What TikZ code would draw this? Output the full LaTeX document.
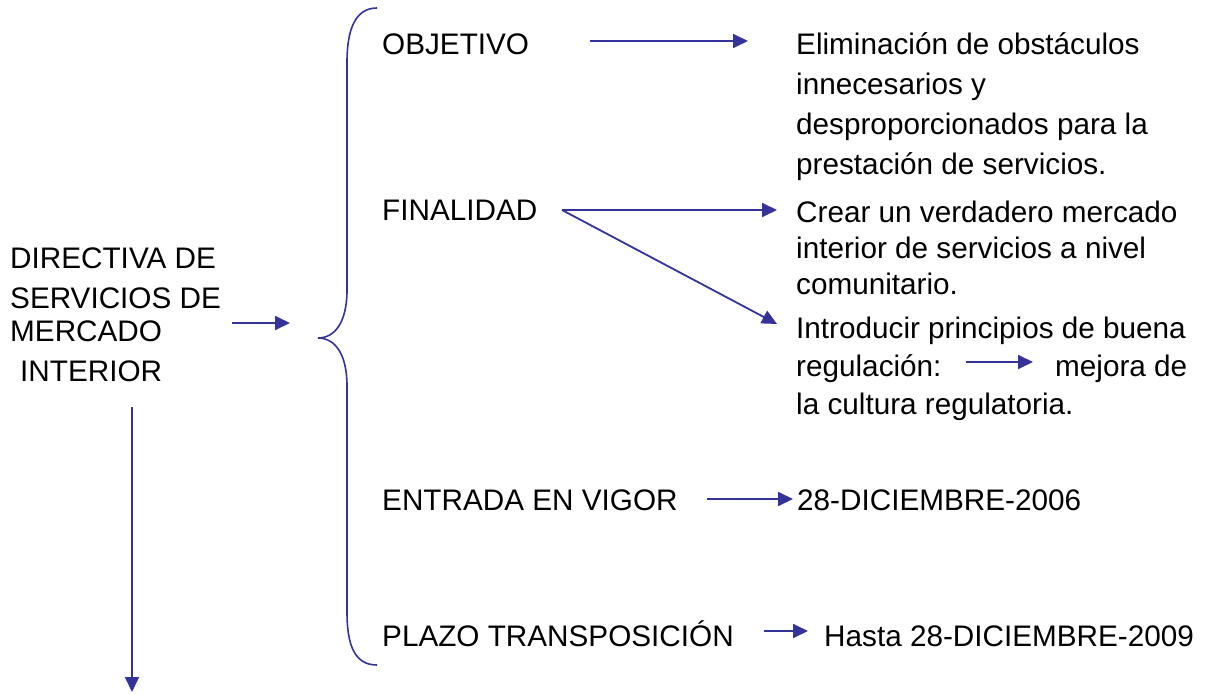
\documentclass[tikz,border=0pt]{standalone}
\usepackage{fontspec}
\setmainfont{Liberation Sans}
\usetikzlibrary{arrows.meta}
\definecolor{azul}{HTML}{333399}
\tikzset{
	txt/.style={anchor=base west, inner sep=0pt, font=\fontsize{29.7}{36}\selectfont},
	arr/.style={azul, line width=1.8pt, -{Triangle[length=15pt,width=14pt]}}
}
\begin{document}
\begin{tikzpicture}[x=1pt,y=-1pt]
	\useasboundingbox (0,0) rectangle (1206,695);
	% Title
	\node[txt] (dir1) at (10,268) {DIRECTIVA DE};
	\node[txt] (dir2) at (10,308) {SERVICIOS DE};
	\node[txt] (dir3) at (10,341) {MERCADO};
	\node[txt] (dir4) at (20,381) {INTERIOR};
	% Brace
	\draw [azul, line width=1.6pt] (377,8) .. controls (355,8) and (347,30) .. (347,62) -- (347,290)
		.. controls (347,322) and (335,338) .. (318,338)
		.. controls (335,338) and (347,354) .. (347,386) -- (347,612)
		.. controls (347,646) and (355,665) .. (377,665);
	% Items
	\node[txt] (obj) at (382,55) {OBJETIVO};
	\node[txt] (fin) at (382,220) {FINALIDAD};
	\node[txt] (ent) at (382,510) {ENTRADA EN VIGOR};
	\node[txt] (pla) at (382,646) {PLAZO TRANSPOSICIÓN};
	% Texts
	\node[txt] (eli1) at (796,55) {Eliminación de obstáculos};
	\node[txt] (eli2) at (796,95) {innecesarios y};
	\node[txt] (eli3) at (796,135) {desproporcionados para la};
	\node[txt] (eli4) at (796,175) {prestación de servicios.};
	\node[txt] (cre1) at (796,222) {Crear un verdadero mercado};
	\node[txt] (cre2) at (796,258) {interior de servicios a nivel};
	\node[txt] (cre3) at (796,294) {comunitario.};
	\node[txt] (int1) at (796,338) {Introducir principios de buena};
	\node[txt] (int2) at (796,376) {regulación:};
	\node[txt] (mej) at (1055,376) {mejora de};
	\node[txt] (int3) at (796,414) {la cultura regulatoria.};
	\node[txt] (fec1) at (797,510) {28-DICIEMBRE-2006};
	\node[txt] (fec2) at (824,646) {Hasta 28-DICIEMBRE-2009};
	% Arrow ends
	\coordinate (dirout) at (232,323);
	\coordinate (bracein) at (290,323);
	\coordinate (dirdown) at (132,407);
	\coordinate (dirend) at (132,692);
	\coordinate (objout) at (590,41);
	\coordinate (objin) at (748,41);
	\coordinate (finout) at (562,210);
	\coordinate (crein) at (777,210);
	\coordinate (intin) at (777,324);
	\coordinate (regout) at (966,362);
	\coordinate (mejin) at (1033,362);
	\coordinate (entout) at (707,499);
	\coordinate (fecin1) at (793,499);
	\coordinate (plaout) at (764,631);
	\coordinate (fecin2) at (808,631);
	% Arrows
	\draw [arr] (dirout) -- (bracein);
	\draw [arr] (dirdown) -- (dirend);
	\draw [arr] (objout) -- (objin);
	\draw [arr] (finout) -- (crein);
	\draw [arr] (finout) -- (intin);
	\draw [arr] (regout) -- (mejin);
	\draw [arr] (entout) -- (fecin1);
	\draw [arr] (plaout) -- (fecin2);
\end{tikzpicture}
\end{document}
